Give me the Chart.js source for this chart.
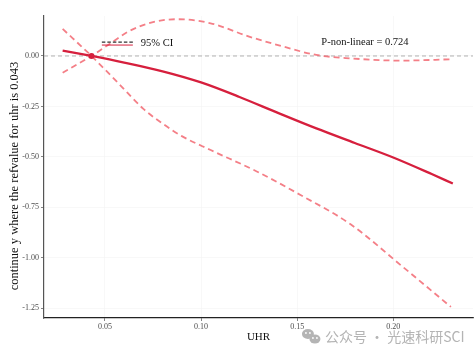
<!DOCTYPE html>
<html>
<head>
<meta charset="utf-8">
<script src="https://cdn.jsdelivr.net/npm/chart.js@4/dist/chart.umd.min.js"></script>
<style>
html,body{margin:0;padding:0;background:#fff;}
canvas{display:block;}
</style>
</head>
<body>
<canvas id="c" width="474" height="355"></canvas>
<script>
// ---- data ----
const uhrMain   = [0.028, 0.043, 0.060, 0.080, 0.100, 0.120, 0.140, 0.160, 0.180, 0.200, 0.220, 0.231];
const estMain   = [0.027, 0.000, -0.033, -0.076, -0.131, -0.203, -0.282, -0.359, -0.431, -0.503, -0.585, -0.632];

const uhrUpper  = [0.028, 0.043, 0.053, 0.062, 0.075, 0.088, 0.105, 0.125, 0.143, 0.160, 0.178, 0.204, 0.231];
const ciUpper   = [-0.083, 0.000, 0.063, 0.120, 0.168, 0.182, 0.162, 0.096, 0.046, 0.005, -0.012, -0.023, -0.016];

const uhrLower  = [0.028, 0.043, 0.057, 0.070, 0.080, 0.090, 0.105, 0.129, 0.152, 0.178, 0.204, 0.230];
const ciLower   = [0.134, 0.000, -0.135, -0.262, -0.335, -0.397, -0.466, -0.572, -0.690, -0.835, -1.037, -1.243];

const refX = 0.043, refY = 0;
const xTicks = [0.05, 0.10, 0.15, 0.20];
const xTickLabels = ['0.05', '0.10', '0.15', '0.20'];
const yTicks = [-1.25, -1.00, -0.75, -0.50, -0.25, 0.00];
const yTickLabels = ['-1.25', '-1.00', '-0.75', '-0.50', '-0.25', '0.00'];
const xRange = [0.0183, 0.2415];
const yRange = [-1.298, 0.198];
const pText = 'P-non-linear = 0.724';
const legendText = '95% CI';
const xTitle = 'UHR';
const yTitle = 'continue y where the refvalue for uhr is 0.043';
const watermark = '公众号 · 光速科研SCI';

const pts = (xs, ys) => xs.map((x, i) => ({x: x, y: ys[i]}));
const SERIF = "'Liberation Serif', 'Times New Roman', serif";
const mainColor = '#d61f3d';
const ciColor = 'rgba(242,104,114,0.85)';

const overlay = {
  id: 'overlay',
  afterDraw(chart) {
    const ctx = chart.ctx, xs = chart.scales.x, ys = chart.scales.y;
    ctx.save();
    // legend
    const lx = xs.getPixelForValue(0.0484), ly = ys.getPixelForValue(0.064);
    ctx.setLineDash([3.5, 2]);
    ctx.strokeStyle = '#333';
    ctx.lineWidth = 1.2;
    ctx.beginPath(); ctx.moveTo(lx, ly - 1); ctx.lineTo(lx + 31, ly - 1); ctx.stroke();
    ctx.setLineDash([]);
    ctx.strokeStyle = mainColor;
    ctx.lineWidth = 1;
    ctx.beginPath(); ctx.moveTo(lx, ly + 2); ctx.lineTo(lx + 31, ly + 2); ctx.stroke();
    ctx.fillStyle = '#111';
    ctx.font = '10.5px ' + SERIF;
    ctx.textBaseline = 'middle';
    ctx.textAlign = 'left';
    ctx.fillText(legendText, lx + 39, ly);
    // P value
    ctx.textAlign = 'center';
    ctx.fillText(pText, xs.getPixelForValue(0.1853), ys.getPixelForValue(0.066));
    // y title
    ctx.save();
    ctx.translate(15, (ys.top + ys.bottom) / 2 + 9);
    ctx.rotate(-Math.PI / 2);
    ctx.font = '12.5px ' + SERIF;
    ctx.fillStyle = '#111';
    ctx.textAlign = 'center';
    ctx.fillText(yTitle, 0, 0);
    ctx.restore();
    // watermark
    const wx = xs.getPixelForValue(0.1525), wy = chart.height - 19;
    ctx.fillStyle = '#b4b4b4';
    ctx.beginPath(); ctx.ellipse(wx + 6, wy - 2, 6, 5, 0, 0, Math.PI * 2); ctx.fill();
    ctx.beginPath(); ctx.ellipse(wx + 13, wy + 3, 5.5, 4.5, 0, 0, Math.PI * 2); ctx.fill();
    ctx.fillStyle = '#fff';
    [[wx+4,wy-3],[wx+8,wy-3],[wx+11,wy+2],[wx+15,wy+2]].forEach(p=>{ctx.beginPath();ctx.arc(p[0],p[1],0.9,0,Math.PI*2);ctx.fill();});
    ctx.fillStyle = '#b4b4b4';
    ctx.font = "14px 'Noto Sans CJK SC', 'Noto Sans', sans-serif";
    ctx.textAlign = 'left';
    ctx.fillText(watermark, wx + 23, wy + 1);
    ctx.restore();
  }
};

new Chart(document.getElementById('c'), {
  type: 'scatter',
  data: {
    datasets: [
      {data: pts(xRange, [0, 0]), showLine: true, borderColor: '#a8a8a8', borderWidth: 0.9, borderDash: [4, 3], pointRadius: 0, order: 5},
      {data: pts(uhrUpper, ciUpper), showLine: true, borderColor: ciColor, borderWidth: 1.8, borderDash: [6, 4], pointRadius: 0, cubicInterpolationMode: 'monotone', order: 3},
      {data: pts(uhrLower, ciLower), showLine: true, borderColor: ciColor, borderWidth: 1.8, borderDash: [6, 4], pointRadius: 0, cubicInterpolationMode: 'monotone', order: 3},
      {data: pts(uhrMain, estMain), showLine: true, borderColor: mainColor, borderWidth: 2.3, pointRadius: 0, cubicInterpolationMode: 'monotone', order: 2},
      {data: [{x: refX, y: refY}], pointRadius: 3, pointBackgroundColor: mainColor, pointBorderWidth: 0, order: 1}
    ]
  },
  options: {
    responsive: false,
    animation: false,
    devicePixelRatio: 1,
    layout: {autoPadding: false, padding: {top: 16, right: 1, left: 0, bottom: 0}},
    plugins: {legend: {display: false}, tooltip: {enabled: false}},
    scales: {
      x: {
        type: 'linear', min: xRange[0], max: xRange[1],
        afterBuildTicks: s => { s.ticks = xTicks.map(v => ({value: v})); },
        afterFit: s => { s.height = 37; },
        ticks: {callback: (v) => { const i = xTicks.findIndex(t => Math.abs(t - v) < 1e-9); return i >= 0 ? xTickLabels[i] : ''; },
                font: {family: SERIF, size: 8}, color: '#4d4d4d', padding: 1, maxRotation: 0},
        grid: {color: '#f4f4f4', lineWidth: 0.6, tickColor: '#333', tickLength: 3},
        border: {display: true, color: '#222', width: 1.2},
        title: {display: true, text: xTitle, font: {family: SERIF, size: 11}, color: '#111', padding: {top: 0, bottom: 11}}
      },
      y: {
        type: 'linear', min: yRange[0], max: yRange[1],
        afterBuildTicks: s => { s.ticks = yTicks.map(v => ({value: v})); },
        afterFit: s => { s.width = 44; },
        ticks: {callback: (v) => { const i = yTicks.findIndex(t => Math.abs(t - v) < 1e-9); return i >= 0 ? yTickLabels[i] : ''; },
                font: {family: SERIF, size: 8}, color: '#4d4d4d', padding: 2},
        grid: {color: '#f4f4f4', lineWidth: 0.6, tickColor: '#333', tickLength: 3},
        border: {display: true, color: '#555', width: 1.2},
        title: {display: false}
      }
    }
  },
  plugins: [overlay]
});
</script>
</body>
</html>
